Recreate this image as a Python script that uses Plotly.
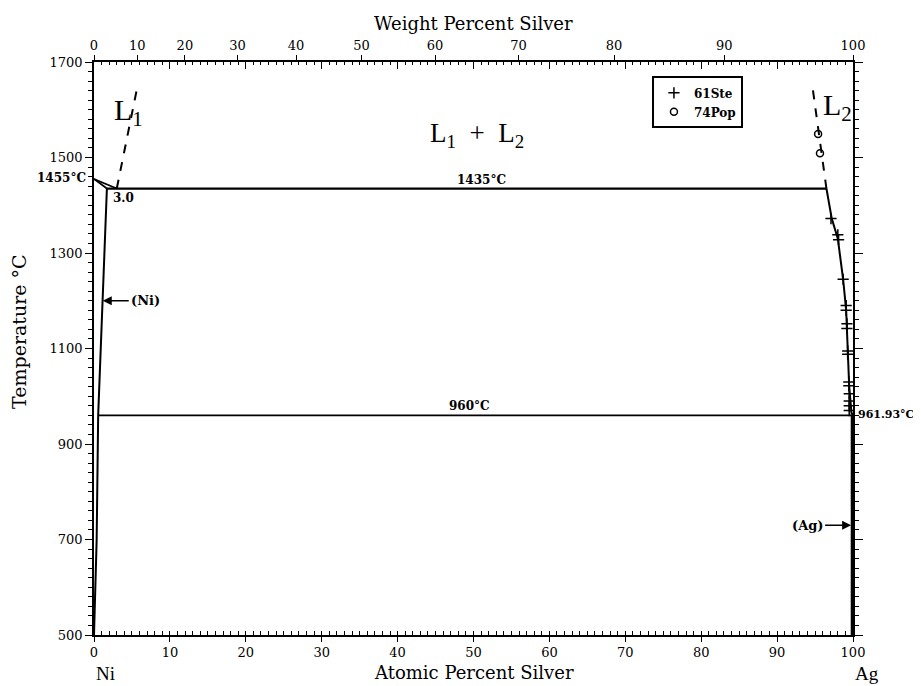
import plotly.graph_objects as go

# ---------------- data (atomic % Ag, temperature in degC) ----------------
ni_liquidus_at = [0.0, 3.0]
ni_liquidus_T = [1455, 1435]
ni_solidus_at = [0.0, 1.7]
ni_solidus_T = [1455, 1435]
ni_solvus_at = [1.7, 0.55, 0.35, 0.15, 0.0]
ni_solvus_T = [1435, 960, 700, 600, 500]
monotectic_at = [1.7, 96.5]
monotectic_T = [1435, 1435]
eutectic_at = [0.55, 100.0]
eutectic_T = [960, 960]
l1_dash_at = [3.0, 5.8]
l1_dash_T = [1435, 1655]
l2_dash_at = [96.5, 94.6]
l2_dash_T = [1435, 1655]
l2_liquidus_at = [96.5, 97.2, 98.0, 98.7, 99.1, 99.3, 99.5, 99.8, 100.0]
l2_liquidus_T = [1435, 1372, 1330, 1245, 1180, 1090, 1020, 965, 961.93]
ag_at = [99.93, 99.93]
ag_T = [500, 961.93]

ste_at = [97.1, 98.0, 98.1, 98.7, 99.1, 99.1, 99.2, 99.2, 99.3, 99.3,
          99.45, 99.45, 99.5, 99.5, 99.5, 99.5]
ste_T = [1372, 1338, 1328, 1245, 1190, 1180, 1152, 1142, 1095, 1088,
         1030, 1022, 1005, 990, 980, 970]
pop_at = [95.4, 95.65]
pop_T = [1549, 1509]

at_ticks = list(range(0, 101, 10))
wt_ticks = list(range(0, 101, 10))
T_ticks = [500, 700, 900, 1100, 1300, 1500, 1700]

M_NI, M_AG = 58.69, 107.87


def wt_to_at(w):
    a = w / M_AG
    n = (100 - w) / M_NI
    return 100 * a / (a + n)


wt_pos = [wt_to_at(w) for w in wt_ticks]

FONT = "DejaVu Serif"
fig = go.Figure()


def line(x, y, width=2, dash=None):
    fig.add_trace(go.Scatter(x=x, y=y, mode="lines", showlegend=False,
                             hoverinfo="skip",
                             line=dict(color="black", width=width, dash=dash)))


line(ni_liquidus_at, ni_liquidus_T, 1.8)
line(ni_solidus_at, ni_solidus_T, 1.8)
line(ni_solvus_at, ni_solvus_T, 2)
line(monotectic_at, monotectic_T, 2.2)
line(eutectic_at, eutectic_T, 1.8)
line(l1_dash_at, l1_dash_T, 2, "dash")
line(l2_dash_at, l2_dash_T, 2, "dash")
line(l2_liquidus_at, l2_liquidus_T, 2)
line(ag_at, ag_T, 3.5)

fig.add_trace(go.Scatter(x=ste_at, y=ste_T, mode="markers", name="61Ste",
                         marker=dict(symbol="cross-thin-open", size=8, color="black",
                                     line=dict(width=1.5, color="black"))))
fig.add_trace(go.Scatter(x=pop_at, y=pop_T, mode="markers", name="74Pop",
                         marker=dict(symbol="circle-open", size=7, color="black",
                                     line=dict(width=1.5, color="black"))))

# helper traces for extra axes
fig.add_trace(go.Scatter(x=[0, 100], y=[500, 500], xaxis="x2", yaxis="y", mode="markers",
                         marker=dict(opacity=0), showlegend=False, hoverinfo="skip"))
fig.add_trace(go.Scatter(x=[0, 100], y=[500, 500], xaxis="x3", yaxis="y", mode="markers",
                         marker=dict(opacity=0), showlegend=False, hoverinfo="skip"))
fig.add_trace(go.Scatter(x=[0, 100], y=[500, 500], xaxis="x", yaxis="y2", mode="markers",
                         marker=dict(opacity=0), showlegend=False, hoverinfo="skip"))

tickfont = dict(family=FONT, size=13, color="black")

# page body has an 8px margin, so the figure is sized/offset to compensate
fig.update_layout(
    width=913, height=678,
    margin=dict(l=86, r=68, t=54, b=51),
    paper_bgcolor="white", plot_bgcolor="white",
    font=dict(family=FONT, color="black"),
    xaxis=dict(range=[0, 100], tickvals=at_ticks, ticks="outside", ticklen=5,
               tickwidth=1, tickcolor="black", showline=True, linecolor="black",
               linewidth=1.5, showgrid=False, zeroline=False, tickfont=tickfont,
               minor=dict(dtick=1, ticks="inside", ticklen=4, tickcolor="black",
                          showgrid=False)),
    xaxis2=dict(range=[0, 100], overlaying="x", side="top", anchor="y",
                tickvals=wt_pos, ticktext=[str(w) for w in wt_ticks],
                ticks="outside", ticklen=5, tickcolor="black", showline=True,
                linecolor="black", linewidth=1.5, showgrid=False, zeroline=False,
                tickfont=tickfont),
    xaxis3=dict(range=[0, 100], overlaying="x", side="top", anchor="y",
                tickvals=at_ticks, showticklabels=False, ticks="inside", ticklen=7,
                tickcolor="black", showline=False, showgrid=False, zeroline=False,
                minor=dict(dtick=1, ticks="inside", ticklen=3, tickcolor="black",
                           showgrid=False)),
    yaxis=dict(range=[500, 1700], tickvals=T_ticks, ticks="outside", ticklen=7,
               tickcolor="black", showline=True, linecolor="black", linewidth=1.5,
               showgrid=False, zeroline=False, tickfont=tickfont,
               minor=dict(dtick=20, tick0=500, ticks="outside", ticklen=4,
                          tickcolor="black", showgrid=False)),
    yaxis2=dict(range=[500, 1700], overlaying="y", side="right", anchor="x",
                tickvals=T_ticks, showticklabels=False, ticks="outside", ticklen=8,
                tickcolor="black", showline=True, linecolor="black", linewidth=1.5,
                showgrid=False, zeroline=False,
                minor=dict(dtick=20, tick0=500, ticks="outside", ticklen=4,
                           tickcolor="black", showgrid=False)),
    legend=dict(x=0.855, y=0.975, xanchor="right", yanchor="top",
                bordercolor="black", borderwidth=2, bgcolor="white",
                font=dict(family=FONT, size=12, color="black", weight="bold"),
                itemwidth=30, tracegroupgap=0),
)

ann = []


def txt(x, y, s, size=12, bold=False, xanchor="center", yanchor="middle",
        xref="x", yref="y", xshift=0, yshift=0, family=FONT, angle=0):
    ann.append(dict(x=x, y=y, text=s, showarrow=False, xref=xref, yref=yref,
                    xanchor=xanchor, yanchor=yanchor, xshift=xshift, yshift=yshift,
                    textangle=angle,
                    font=dict(family=family, size=size, color="black",
                              weight="bold" if bold else "normal")))


SERIF2 = "Liberation Serif"
txt(2.4, 1595, "L<sub>1</sub>", size=30, xanchor="left", family=SERIF2)
txt(50.5, 1547, "L<sub>1</sub>  +  L<sub>2</sub>", size=27, family=SERIF2)
txt(98.0, 1606, "L<sub>2</sub>", size=30, xanchor="center", family=SERIF2)
txt(0, 1457, "1455°C", size=12, bold=True, xanchor="right", xshift=-6)
txt(2.3, 1416, "3.0", size=12, bold=True, xanchor="left")
txt(51.1, 1435, "1435°C", size=12, bold=True, yanchor="bottom", yshift=0)
txt(49.5, 960, "960°C", size=12, bold=True, yanchor="bottom", yshift=0)
txt(100, 962, "961.93°C", size=11, bold=True, xanchor="left", xshift=3)
txt(0.5, -0.066, "Atomic Percent Silver", size=18, xref="paper", yref="paper")
txt(0.5, 1.068, "Weight Percent Silver", size=18, xref="paper", yref="paper")
txt(-0.098, 0.53, "Temperature °C", size=19, xref="paper", yref="paper", angle=-90)
txt(0, -0.068, "Ni", size=19, xref="x", yref="paper", xanchor="left", family=SERIF2)
txt(100, -0.068, "Ag", size=19, xref="x", yref="paper", xanchor="left", family=SERIF2)

ann.append(dict(x=1.15, y=1200, xref="x", yref="y", text="(Ni)", showarrow=True,
                ax=26, ay=0, xanchor="left", arrowhead=2, arrowsize=1.2,
                arrowwidth=1.5, arrowcolor="black", standoff=0,
                font=dict(family=FONT, size=13, color="black", weight="bold")))
ann.append(dict(x=99.75, y=730, xref="x", yref="y", text="(Ag)", showarrow=True,
                ax=-26, ay=0, xanchor="right", arrowhead=2, arrowsize=1.2,
                arrowwidth=1.5, arrowcolor="black", standoff=0,
                font=dict(family=FONT, size=13, color="black", weight="bold")))

fig.update_layout(annotations=ann)
fig.write_html("out.html")
